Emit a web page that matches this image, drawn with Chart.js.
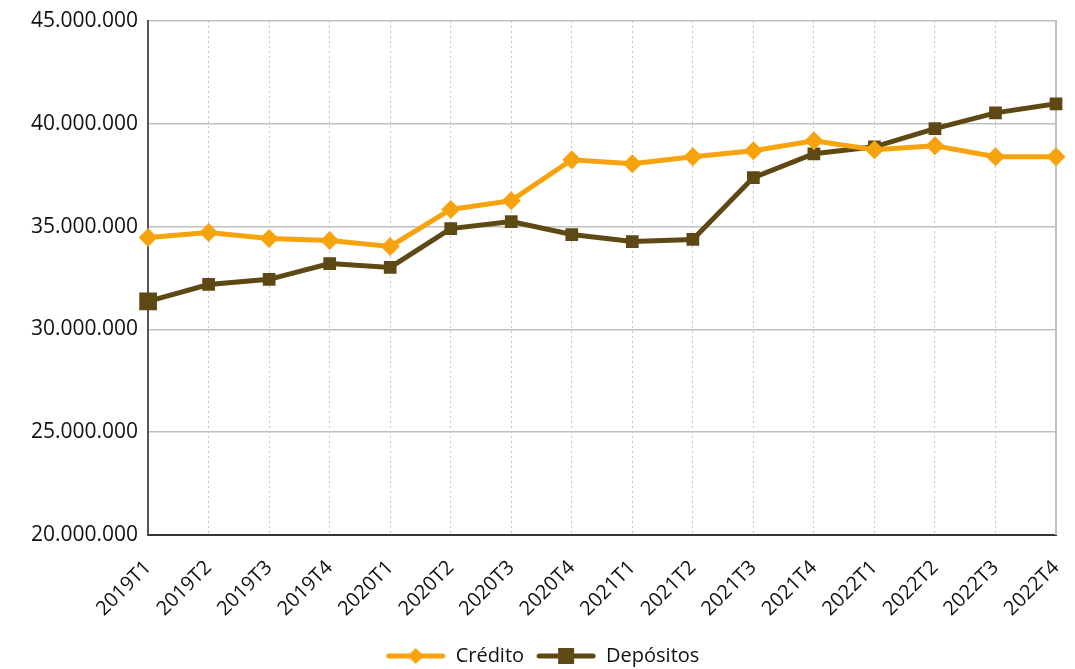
<!DOCTYPE html>
<html>
<head>
<meta charset="utf-8">
<script src="https://cdn.jsdelivr.net/npm/chart.js@4/dist/chart.umd.min.js"></script>
<style>
  html, body { margin: 0; padding: 0; background: #fff; }
  #wrap { width: 1075px; height: 669px; }
</style>
</head>
<body>
<div id="wrap"><canvas id="chart"></canvas></div>
<script>
// ── DATA ───────────────────────────────────────
const quarters = ['2019T1','2019T2','2019T3','2019T4','2020T1','2020T2','2020T3','2020T4',
                  '2021T1','2021T2','2021T3','2021T4','2022T1','2022T2','2022T3','2022T4'];
const credito = [34470000, 34710000, 34420000, 34320000, 34030000, 35830000, 36260000, 38250000,
                 38060000, 38400000, 38690000, 39170000, 38740000, 38930000, 38400000, 38400000];
const depositos = [31360000, 32180000, 32430000, 33200000, 33010000, 34900000, 35240000, 34610000,
                   34270000, 34370000, 37380000, 38540000, 38880000, 39760000, 40530000, 40970000];
const yTicks = [20000000, 25000000, 30000000, 35000000, 40000000, 45000000];

const ORANGE = '#F6A30E';
const BROWN  = '#5E4814';
const FONT   = "'Open Sans', 'Noto Sans', sans-serif";

// legend swatch: line with marker in the middle
function swatch(color, shape) {
  const c = document.createElement('canvas');
  c.width = 60; c.height = 22;
  const g = c.getContext('2d');
  g.strokeStyle = color; g.lineWidth = 5; g.lineCap = 'round';
  g.beginPath(); g.moveTo(3, 11); g.lineTo(57, 11); g.stroke();
  g.fillStyle = color;
  if (shape === 'diamond') {
    g.beginPath(); g.moveTo(30, 3); g.lineTo(38, 11); g.lineTo(30, 19); g.lineTo(22, 11); g.closePath(); g.fill();
  } else {
    g.fillRect(22, 3, 16, 16);
  }
  return c;
}

const fmt = v => String(v).replace(/\B(?=(\d{3})+(?!\d))/g, '.');

// nudge the legend a little lower, like the original
const legendShift = {
  id: 'legendShift',
  afterLayout(chart) {
    chart.legend.top += 7;
    chart.legend.bottom += 7;
  }
};

new Chart(document.getElementById('chart'), {
  type: 'line',
  data: {
    labels: quarters,
    datasets: [
      {
        label: 'Crédito',
        data: credito,
        borderColor: ORANGE,
        backgroundColor: ORANGE,
        borderWidth: 5,
        pointStyle: 'rectRot',
        pointRadius: 9.5,
        pointBorderWidth: 0,
        tension: 0
      },
      {
        label: 'Depósitos',
        data: depositos,
        borderColor: BROWN,
        backgroundColor: BROWN,
        borderWidth: 5,
        pointStyle: 'rect',
        pointRadius: ctx => ctx.dataIndex === 0 ? 12.5 : 9,
        pointBorderWidth: 0,
        tension: 0
      }
    ]
  },
  plugins: [legendShift],
  options: {
    responsive: true,
    maintainAspectRatio: false,
    animation: false,
    layout: { padding: { top: 21, right: 11, left: 21, bottom: 0 } },
    plugins: {
      tooltip: { enabled: false },
      legend: {
        position: 'bottom',
        labels: {
          color: '#111',
          font: { size: 20, family: FONT },
          usePointStyle: true,
          pointStyleWidth: 60,
          padding: 12,
          generateLabels: chart => chart.data.datasets.map((ds, i) => ({
            text: ds.label,
            pointStyle: swatch(ds.borderColor, i === 0 ? 'diamond' : 'square'),
            fillStyle: ds.borderColor,
            strokeStyle: ds.borderColor,
            lineWidth: 0,
            datasetIndex: i,
            fontColor: '#111'
          }))
        }
      }
    },
    scales: {
      x: {
        offset: false,
        afterFit: axis => { axis.height -= 15; axis.paddingRight = 0; },
        grid: { color: '#c4c4c4', lineWidth: 1, drawTicks: false },
        border: { display: true, color: '#333', width: 2, dash: [2, 3] },
        ticks: {
          color: '#111',
          font: { size: 20, family: FONT },
          minRotation: 45, maxRotation: 45,
          padding: 21,
          autoSkip: false
        }
      },
      y: {
        min: 20000000,
        max: 45000000,
        afterBuildTicks: axis => { axis.ticks = yTicks.map(v => ({ value: v })); },
        afterFit: axis => { axis.paddingTop = 0; },
        grid: { color: '#c0c0c0', lineWidth: 1.5, drawTicks: false },
        border: { display: true, color: '#555', width: 2 },
        ticks: {
          color: '#111',
          font: { size: 21, family: FONT },
          padding: 10,
          callback: v => fmt(v)
        }
      },
      y2: {
        position: 'right',
        min: 20000000,
        max: 45000000,
        grid: { display: false },
        border: { display: true, color: '#c0c0c0', width: 2 },
        ticks: { display: false }
      }
    }
  }
});
</script>
</body>
</html>
